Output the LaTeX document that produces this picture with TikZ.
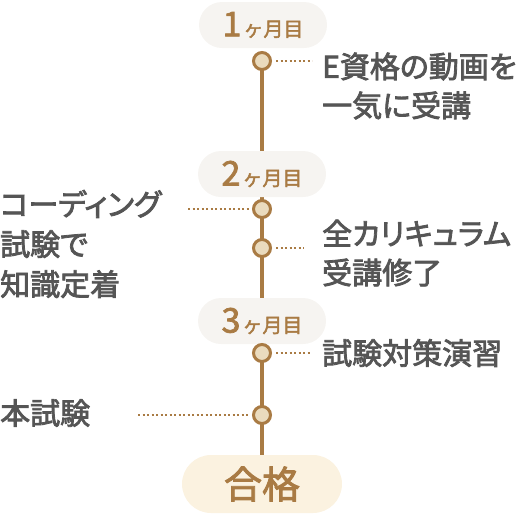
\documentclass[tikz,border=0pt]{standalone}
\usepackage{fontspec}
\setmainfont{Noto Sans CJK JP}[AutoFakeBold=2.2]
\newfontfamily\medfont{Noto Sans CJK JP}[FakeBold=2.6, RawFeature=+palt]
\usetikzlibrary{backgrounds}

\definecolor{lineBrown}{HTML}{A97B44}
\definecolor{dotFill}{HTML}{EADBBE}
\definecolor{pillGray}{HTML}{F6F4F1}
\definecolor{goalCream}{HTML}{FBF2E0}
\definecolor{textGray}{HTML}{555555}

\newcommand{\monthtext}[1]{{\fontsize{34}{34}\selectfont #1}\hspace{2pt}{\fontsize{20}{20}\selectfont ヶ月目}}

\begin{document}
\begin{tikzpicture}[
	x=1pt, y=-1pt,
	month/.style = {
		rectangle, rounded corners=23pt, fill=pillGray,
		minimum width=128pt, minimum height=46pt,
		text=lineBrown, font=\bfseries
	},
	goalpill/.style = {
		rectangle, rounded corners=29pt, fill=goalCream,
		minimum width=160pt, minimum height=58pt,
		text=lineBrown, font=\fontsize{38}{38}\selectfont\bfseries
	},
	dot/.style = {
		circle, draw=lineBrown, line width=3pt, fill=dotFill,
		minimum size=17pt, inner sep=0pt
	},
	guide/.style = {draw=lineBrown, line width=1.2pt, dash pattern=on 2pt off 2.5pt},
	event/.style = {
		text=textGray, font=\medfont\fontsize{30}{39}\selectfont,
		inner sep=0pt, align=left
	}
]
	\useasboundingbox (0,0) rectangle (526,515);

	% months and goal
	\node (p1) [month] at (263,25) {\monthtext{1}};
	\node (p2) [month] at (262,174) {\monthtext{2}};
	\node (p3) [month] at (262,321) {\monthtext{3}};
	\node (goal) [goalpill] at (262,484) {合格};

	% steps
	\node (m1) [dot] at (262,61) {};
	\node (m2a) [dot] at (262,209) {};
	\node (m2b) [dot] at (262,248) {};
	\node (m3a) [dot] at (262,353) {};
	\node (m3b) [dot] at (262,415) {};

	\begin{scope}[on background layer]
		\draw [lineBrown, line width=3.5pt] (m1.center) -- (goal.north);
	\end{scope}

	% labels
	\node (t1) [event, anchor=west] at (322,86) {E資格の動画を\\一気に受講};
	\node (t2a) [event, anchor=west, font=\medfont\fontsize{30}{40}\selectfont] at (0,244) {コーディング\\試験で\\知識定着};
	\node (t2b) [event, anchor=west] at (322,253) {全カリキュラム\\受講修了};
	\node (t3a) [event, anchor=west] at (322,353) {試験対策演習};
	\node (t3b) [event, anchor=west] at (0,413) {本試験};

	\coordinate (g1) at (312,61);
	\coordinate (g2a) at (188,209);
	\coordinate (g2b) at (304,248);
	\coordinate (g3a) at (310,353);
	\coordinate (g3b) at (138,415);

	\draw [guide, shorten <=4pt] (m1.east) -- (g1);
	\draw [guide, shorten >=3pt] (g2a) -- (m2a.west);
	\draw [guide, shorten <=4pt] (m2b.east) -- (g2b);
	\draw [guide, shorten <=4pt] (m3a.east) -- (g3a);
	\draw [guide, shorten >=3pt] (g3b) -- (m3b.west);
\end{tikzpicture}
\end{document}
